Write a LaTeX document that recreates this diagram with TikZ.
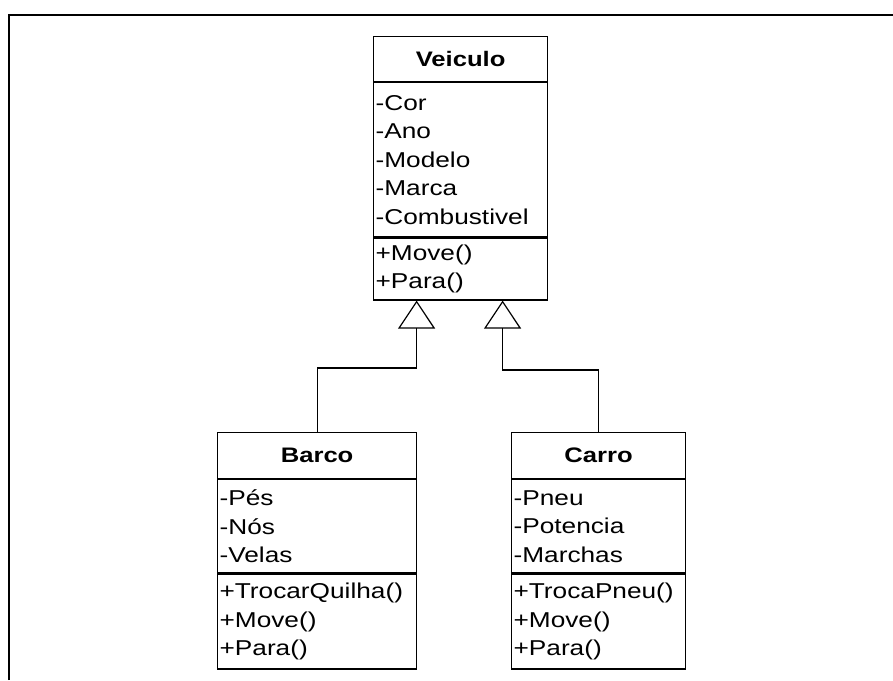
\documentclass[tikz,border=0pt]{standalone}
\usepackage{fontspec}
\newfontfamily\umlfont[FakeStretch=1.22]{Liberation Sans}
\usetikzlibrary{arrows.meta,positioning}
\tikzset{
  umlbox/.style={draw=black,line width=1.2pt,fill=white,inner xsep=2pt,inner ysep=0pt,
    font={\umlfont\fontsize{21.5}{28.5}\selectfont}},
  umltitle/.style={umlbox,font={\umlfont\bfseries\fontsize{21}{28.5}\selectfont}},
  umlpart/.style={umlbox,align=left,below=0pt of #1},
  inherit/.style={line width=1.2pt,-{Triangle[open,width=37pt,length=28pt,fill=white]}}
}
\begin{document}
\begin{tikzpicture}[x=1pt,y=1pt]
  \useasboundingbox (0,0) rectangle (893,680);
  % frame
  \draw[line width=1.6pt] (9,0) -- (9,665) -- (893,665);
  % Veiculo
  \node[umltitle,anchor=north west,minimum width=174pt,minimum height=45pt] (veiculo) at (373,644) {Veiculo};
  \node[umlpart=veiculo,text width=170pt,minimum height=154pt] (veiculo-a)
    {-Cor\\-Ano\\-Modelo\\-Marca\\-Combustivel};
  \node[umlpart=veiculo-a,text width=170pt,minimum height=62pt] (veiculo-m)
    {+Move()\\+Para()};
  % Barco
  \node[umltitle,anchor=north west,minimum width=199pt,minimum height=46pt] (barco) at (217,248) {Barco};
  \node[umlpart=barco,text width=195pt,minimum height=93pt] (barco-a)
    {-Pés\\-Nós\\-Velas};
  \node[umlpart=barco-a,text width=195pt,minimum height=95pt] (barco-m)
    {+TrocarQuilha()\\+Move()\\+Para()};
  % Carro
  \node[umltitle,anchor=north west,minimum width=174pt,minimum height=46pt] (carro) at (511,248) {Carro};
  \node[umlpart=carro,text width=170pt,minimum height=93pt] (carro-a)
    {-Pneu\\-Potencia\\-Marchas};
  \node[umlpart=carro-a,text width=170pt,minimum height=95pt] (carro-m)
    {+TrocaPneu()\\+Move()\\+Para()};
  % heranca
  \draw[inherit] (barco.north) -- ++(0,64) -| ([xshift=-44pt]veiculo-m.south);
  \draw[inherit] (carro.north) -- ++(0,62) -| ([xshift=42pt]veiculo-m.south);
\end{tikzpicture}
\end{document}
